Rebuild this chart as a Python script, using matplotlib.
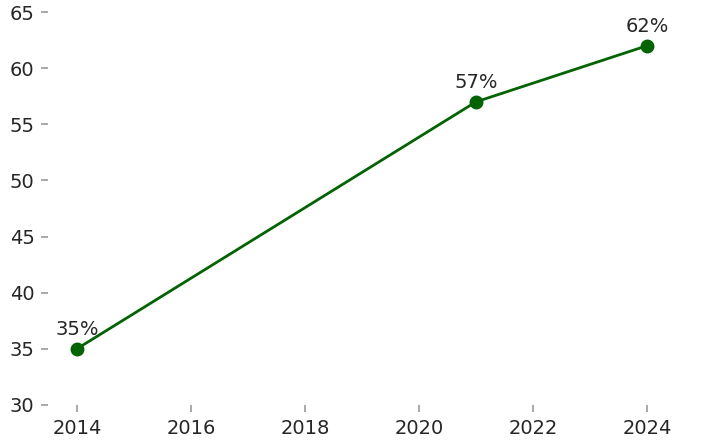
import matplotlib
matplotlib.use("Agg")
import matplotlib.pyplot as plt

years = [2014, 2021, 2024]
values = [35, 57, 62]
labels = ["35%", "57%", "62%"]
xticks = [2014, 2016, 2018, 2020, 2022, 2024]
yticks = [30, 35, 40, 45, 50, 55, 60, 65]

fig = plt.figure(figsize=(7.11, 4.47), dpi=100)
ax = fig.add_axes([0.068, 0.094, 0.882, 0.879])
ax.plot(years, values, color="#006400", linewidth=2, marker="o", markersize=9)
for x, y, t in zip(years, values, labels):
    ax.annotate(t, (x, y), xytext=(0, 7), textcoords="offset points",
                ha="center", va="bottom", fontsize=14, color="#262626")
ax.set_xlim(2013.5, 2024.5)
ax.set_ylim(30, 65)
ax.set_xticks(xticks)
ax.set_yticks(yticks)
ax.tick_params(labelsize=14, colors="#262626", length=5, width=1.2, color="#9a9a9a", pad=5)
for s in ax.spines.values():
    s.set_visible(False)
fig.savefig("out.png", dpi=100)
